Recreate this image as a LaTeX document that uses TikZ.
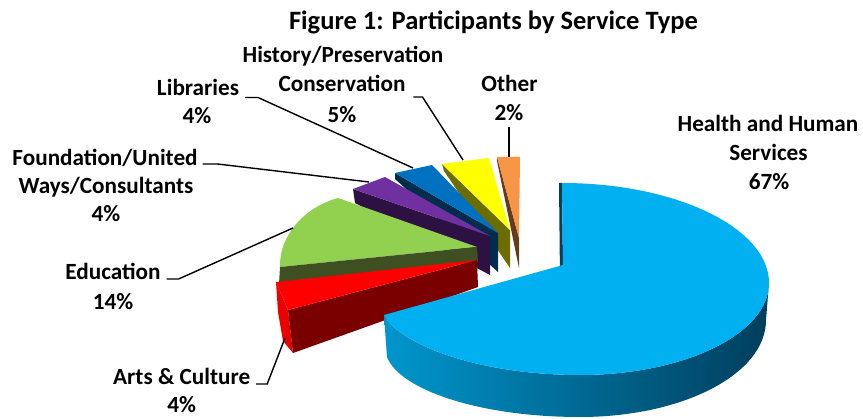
\documentclass[tikz,border=0pt]{standalone}
\usepackage{fontspec}
\setmainfont{Carlito}
\usetikzlibrary{positioning}

\begin{document}
\begin{tikzpicture}[x=1pt, y=-1pt, every node/.style={inner sep=0, outer sep=0},
    lbl/.style={font=\bfseries\fontsize{23.2}{28}\selectfont, anchor=base},
    leader/.style={line width=1.4pt, black}]
        % Colors
        \definecolor{hblue}{RGB}{0,176,240}
        \definecolor{hblueL}{RGB}{0,150,205}
        \definecolor{hblueM}{RGB}{0,95,135}
        \definecolor{hblueD}{RGB}{0,62,92}
        \definecolor{ared}{RGB}{255,0,0}
        \definecolor{aredD}{RGB}{122,0,0}
        \definecolor{aredS}{RGB}{235,0,0}
        \definecolor{egreen}{RGB}{146,208,80}
        \definecolor{egreenD}{RGB}{62,80,34}
        \definecolor{fpurple}{RGB}{112,48,160}
        \definecolor{fpurpleD}{RGB}{45,17,66}
        \definecolor{lblue}{RGB}{0,112,192}
        \definecolor{lblueD}{RGB}{0,45,77}
        \definecolor{hyellow}{RGB}{255,255,0}
        \definecolor{hyellowD}{RGB}{108,108,0}
        \definecolor{oorange}{RGB}{247,150,70}
        \definecolor{oorangeD}{RGB}{100,60,26}

        \useasboundingbox (0,0) rectangle (863,419);

        % Other
        \fill[oorangeD] (497,157) -- (519,238) -- (519,268) -- (497,161) -- cycle;
        \fill[oorange] (497,157) -- (520,157) -- (519,238) -- cycle;

        % History/Preservation
        \fill[hyellowD] (442,164) -- (510,230) -- (510,268) -- (444,171) -- cycle;
        \fill[hyellow] (442,164) -- (489,158) -- (510,230) -- cycle;

        % Libraries
        \fill[lblueD] (395,173) -- (498,233) -- (498,272) -- (395,179) -- cycle;
        \fill[lblue] (395,173) -- (432,165) -- (498,233) -- cycle;

        % Foundation
        \fill[fpurpleD] (353,189) -- (490,236) -- (490,275) -- (355,203) -- cycle;
        \fill[fpurple] (353,189) -- (385,177) -- (490,236) -- cycle;

        % Education
        \fill[egreen] (477,247) -- (338,198) .. controls (305,207) and (279,235) .. (280,267) -- cycle;
        \fill[egreenD] (280,267) -- (477,247) -- (478,262) -- (279,284) -- cycle;

        % Arts & Culture
        \fill[aredS] (276,282) -- (288,310) -- (293,353) -- (283,341) -- (278,312) -- cycle;
        \fill[aredD] (288,310) -- (477,260) -- (478,287) -- (293,353) -- cycle;
        \fill[ared] (276,282) -- (477,260) -- (288,310) -- cycle;

        % Health and Human Services
        \shade[left color=hblueL, middle color=hblueM, right color=hblueD]
          (384,315) .. controls (400,345) and (480,375) .. (580,375)
          .. controls (684,375) and (769,334) .. (769,283) -- (766,320)
          .. controls (766,374) and (683,417) .. (580,417)
          .. controls (480,417) and (400,390) .. (387,357) -- cycle;
        \fill[hblueD] (559,183) -- (562,183) -- (563,266) -- (560,280) -- cycle;
        \fill[hblue] (563,265) -- (562,183) .. controls (676,183) and (769,228) .. (769,283)
          .. controls (769,334) and (684,375) .. (580,375)
          .. controls (480,375) and (400,345) .. (384,315) -- cycle;

        % Title
        \node[lbl, font=\bfseries\fontsize{26.5}{30}\selectfont] (title) at (493.5,30) {Figure 1: Participants by Service Type};

        % Labels
        \node[lbl] (hisT) at (343,63) {History/Preservation};
        \node[lbl] (conT) at (342,92) {Conservation};
        \node[lbl] (hisP) at (342,123) {5\%};

        \node[lbl] (libT) at (198,95.5) {Libraries};
        \node[lbl] (libP) at (197,124) {4\%};

        \node[lbl] (fndT) at (105,166) {Foundation/United};
        \node[lbl] (fndU) at (106,194) {Ways/Consultants};
        \node[lbl] (fndP) at (106,222) {4\%};

        \node[lbl] (eduT) at (113,280) {Education};
        \node[lbl] (eduP) at (113,310) {14\%};

        \node[lbl] (artT) at (181.7,385) {Arts \& Culture};
        \node[lbl] (artP) at (181.7,413) {4\%};

        \node[lbl] (othT) at (509.5,91.5) {Other};
        \node[lbl] (othP) at (509,120.5) {2\%};

        \node[lbl] (hhsT) at (768,131.5) {Health and Human};
        \node[lbl] (hhsU) at (768.5,160.5) {Services};
        \node[lbl] (hhsP) at (769,190) {67\%};

        % Leader lines
        \coordinate (hisE) at (463,160);
        \coordinate (libE) at (413,168);
        \coordinate (fndE) at (369,182);
        \coordinate (eduE) at (293,228);
        \coordinate (artE) at (285,338);
        \coordinate (othE) at (509,157);

        \draw[leader] ([xshift=8pt, yshift=-5pt]conT.base east) -- ++(9,0) -- (hisE);
        \draw[leader] ([xshift=6pt, yshift=-2pt]libT.base east) -- ++(13,0) -- (libE);
        \draw[leader] ([xshift=5pt, yshift=2pt]fndT.base east) -- ++(15,0) -- (fndE);
        \draw[leader] ([xshift=6pt, yshift=1pt]eduT.base east) -- ++(12,0) -- (eduE);
        \draw[leader] ([xshift=6pt, yshift=1pt]artT.base east) -- ++(11,0) -- (artE);
        \draw[leader] ([yshift=-6.5pt]othP.base) -- (othE);
      \end{tikzpicture}
\end{document}
